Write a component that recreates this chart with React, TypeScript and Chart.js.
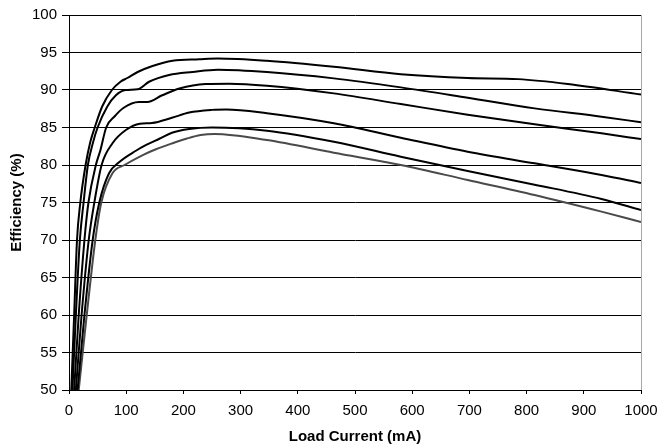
import React, { useEffect, useRef } from 'react';
import { Chart, registerables } from 'chart.js';

Chart.register(...registerables);

// Load current (mA) and efficiency (%) for each curve, top to bottom
const loadA = [4, 9, 14, 19.8, 29, 37, 45, 58, 75, 90, 102, 120, 146, 181, 228, 260, 346, 463, 580, 697, 785, 872, 1000];
const effA = [50, 60, 70, 75, 80, 83, 85, 87.8, 90, 91.1, 91.6, 92.4, 93.2, 93.9, 94.1, 94.2, 93.9, 93.1, 92.1, 91.6, 91.45, 90.8, 89.4];

const loadB = [6, 12, 19, 25.5, 33, 42, 50, 67, 82, 99, 120, 140, 175, 216, 260, 346, 463, 580, 697, 814, 931, 1000];
const effB = [50, 60, 70, 75, 80, 83, 85, 87.8, 89.3, 90, 90.1, 91.1, 92, 92.4, 92.7, 92.4, 91.55, 90.35, 88.97, 87.55, 86.44, 85.7];

const loadC = [9, 17, 27, 34, 47, 55, 65, 80, 95, 122, 137, 163, 193, 239, 280, 346, 463, 580, 697, 814, 931, 1000];
const effC = [50, 60, 70, 75, 80, 82, 85, 86.5, 87.6, 88.4, 88.4, 89.3, 90.2, 90.8, 90.85, 90.58, 89.55, 88.13, 86.71, 85.42, 84.22, 83.45];

const loadD = [12, 22, 34.5, 44.3, 57, 76, 100, 124, 145, 180, 210, 250, 275, 346, 463, 580, 697, 814, 931, 1000];
const effD = [50, 60, 70, 75, 80, 82.9, 84.7, 85.5, 85.6, 86.3, 87.0, 87.35, 87.4, 86.9, 85.56, 83.64, 81.78, 80.22, 78.67, 77.6];

const loadE = [15, 27, 41.4, 53, 70, 88, 117, 135, 158, 180, 210, 250, 346, 463, 580, 697, 814, 931, 1000];
const effE = [50, 60, 70, 75, 78.9, 80.4, 81.9, 82.67, 83.5, 84.3, 84.8, 85.0, 84.58, 83.1, 81.1, 79.2, 77.38, 75.47, 74.0];

const loadF = [17, 31, 46, 56.5, 76, 97, 129, 152, 181, 205, 230, 255, 346, 463, 580, 697, 814, 931, 1000];
const effF = [50, 60, 70, 75, 78.9, 80, 81.33, 82.1, 82.9, 83.5, 84.0, 84.15, 83.33, 81.64, 80.0, 78.0, 76.0, 73.78, 72.4];

const seriesColors = ['#000000', '#000000', '#000000', '#000000', '#000000', '#4a4a4a'];

const FONT = '"Liberation Sans", Arial, Helvetica, sans-serif';

export default function App() {
  const ref = useRef<HTMLCanvasElement>(null);

  useEffect(() => {
    const mk = (xs: number[], ys: number[]) => xs.map((x, i) => ({ x, y: ys[i] }));
    const series = [
      mk(loadA, effA),
      mk(loadB, effB),
      mk(loadC, effC),
      mk(loadD, effD),
      mk(loadE, effE),
      mk(loadF, effF),
    ];
    const chart = new Chart(ref.current as HTMLCanvasElement, {
      type: 'line',
      data: {
        datasets: series.map((d, i) => ({
          data: d,
          borderColor: seriesColors[i],
          borderWidth: 2,
          pointRadius: 0,
          fill: false,
          cubicInterpolationMode: 'monotone' as const,
        })),
      },
      options: {
        animation: false,
        responsive: false,
        maintainAspectRatio: false,
        layout: { padding: { top: 15, right: 27, left: 0, bottom: 0 } },
        plugins: { legend: { display: false }, tooltip: { enabled: false } },
        scales: {
          x: {
            type: 'linear',
            min: 0,
            max: 1000,
            ticks: {
              stepSize: 100,
              color: '#000',
              font: { family: FONT, size: 15 },
              padding: 8,
              maxRotation: 0,
              callback: (v: any) => String(v),
            },
            grid: {
              color: (ctx: any) => (ctx.tick && ctx.tick.value === 1000 ? '#a8a8a8' : 'rgba(0,0,0,0)'),
              tickColor: '#000',
              tickLength: 4,
              lineWidth: 1,
            },
            border: { color: '#000', width: 1 },
            title: {
              display: true,
              text: 'Load Current (mA)',
              color: '#000',
              font: { family: FONT, size: 15, weight: 'bold', lineHeight: 1 },
              padding: { top: 0, bottom: 0 },
            },
            afterFit: (s: any) => {
              s.height = 54;
            },
          },
          y: {
            type: 'linear',
            min: 50,
            max: 100,
            ticks: {
              stepSize: 5,
              color: '#000',
              font: { family: FONT, size: 15 },
              padding: 5,
              callback: (v: any) => String(v),
            },
            grid: {
              color: '#000',
              tickColor: '#000',
              tickLength: 7,
              lineWidth: 1,
            },
            border: { color: '#000', width: 1 },
            title: {
              display: true,
              text: 'Efficiency (%)',
              color: '#000',
              font: { family: FONT, size: 15, weight: 'bold', lineHeight: 1 },
              padding: { top: 9, bottom: 0 },
            },
            afterFit: (s: any) => {
              s.width = 69;
            },
          },
        },
      },
    });
    return () => chart.destroy();
  }, []);

  return (
    <div style={{ position: 'absolute', left: 0, top: 0, width: 668, height: 444, background: '#fff' }}>
      <canvas ref={ref} width={668} height={444} style={{ display: 'block' }} />
    </div>
  );
}
